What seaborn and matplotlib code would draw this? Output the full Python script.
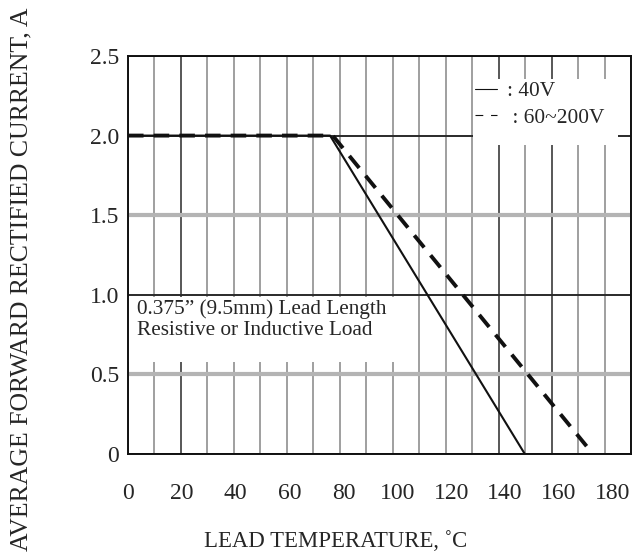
import numpy as np
import pandas as pd
import matplotlib.pyplot as plt
import seaborn as sns
from matplotlib.lines import Line2D
from matplotlib.patches import Rectangle

# ----------------------------------------------------------------------
# data
# ----------------------------------------------------------------------
temp_40v = [0, 75, 147.3]
current_40v = [2.0, 2.0, 0.0]
temp_hv = [0, 76, 172.6]
current_hv = [2.0, 2.0, 0.0]

x_ticks = [0, 20, 40, 60, 80, 100, 120, 140, 160, 180]
y_ticks = [0, 0.5, 1.0, 1.5, 2.0, 2.5]
y_tick_labels = ["0", "0.5", "1.0", "1.5", "2.0", "2.5"]
legend_labels = [": 40V", " : 60~200V"]
note_text = "0.375\u201d (9.5mm) Lead Length\nResistive or Inductive Load"

df_40v = pd.DataFrame({"temp": temp_40v, "current": current_40v})
df_hv = pd.DataFrame({"temp": temp_hv, "current": current_hv})

sns.set_theme(style="white")
plt.rcParams["font.family"] = ["Liberation Serif", "DejaVu Serif"]

X_MAX = 186.7
DARK = "#2a2a2a"
GRAY_V = "#858585"
GRAY_H = "#b4b4b4"

fig = plt.figure(figsize=(6.33, 5.57), dpi=100)
ax = fig.add_axes([0.2022, 0.1849, 0.7946, 0.7146])

# --- grid of the scanned datasheet ---
n_vlines = 20
for i, xv in enumerate(np.linspace(0, X_MAX, n_vlines)):
    dark = i in (0, 2, 14, 16, 19)
    ax.axvline(xv, color=DARK if dark else GRAY_V, lw=1.1, zorder=1)
for yv in y_ticks:
    if yv in (0.5, 1.5):
        ax.axhline(yv, color=GRAY_H, lw=3.0, zorder=1)
    else:
        ax.axhline(yv, color=DARK, lw=1.4, zorder=1.5)

# white boxes for the note and the legend
ax.add_patch(Rectangle((0.0, 0.231), 0.561, 0.163, transform=ax.transAxes,
                       facecolor="white", edgecolor="none", zorder=2))
ax.add_patch(Rectangle((0.686, 0.776), 0.288, 0.166, transform=ax.transAxes,
                       facecolor="white", edgecolor="none", zorder=2))

# --- curves ---
sns.lineplot(data=df_40v, x="temp", y="current", ax=ax, color="#111111",
             lw=1.5, zorder=4)
sns.lineplot(data=df_hv, x="temp", y="current", ax=ax, color="#111111",
             lw=2.8, linestyle="--", zorder=5)
ax.lines[-1].set_dashes([4, 2.6])

ax.text(0.017, 0.389, note_text, transform=ax.transAxes, ha="left", va="top",
        fontsize=15.3, linespacing=1.15, zorder=3)

handles = [Line2D([], [], color="#111111", lw=0.8),
           Line2D([], [], color="#111111", lw=0.8, linestyle=(0, (7, 7)))]
leg = ax.legend(handles, legend_labels, loc="upper left",
                bbox_to_anchor=(0.686, 0.942), borderaxespad=0, borderpad=0.1,
                frameon=False, fontsize=15.4, handlelength=1.0,
                handletextpad=0.5, labelspacing=0.3)
leg.set_zorder(6)

# --- axes formatting ---
ax.set_xlim(0, X_MAX)
ax.set_ylim(0, 2.5)
ax.set_xticks(x_ticks)
ax.set_xticklabels([str(v) for v in x_ticks])
ax.set_yticks(y_ticks)
ax.set_yticklabels(y_tick_labels)
ax.tick_params(axis="x", length=0, pad=21, labelsize=17)
ax.tick_params(axis="y", length=0, pad=6.5, labelsize=17)
ax.grid(False)
for sp in ax.spines.values():
    sp.set_color("#111111")
    sp.set_linewidth(1.4)
    sp.set_zorder(6)

ax.set_xlabel("LEAD TEMPERATURE, \u02daC", fontsize=16.4)
ax.xaxis.set_label_coords(0.4135, -0.1935)
ax.set_ylabel("AVERAGE FORWARD RECTIFIED CURRENT, A", fontsize=18.5)
ax.yaxis.set_label_coords(-0.19, 0.44)

fig.savefig("out.png", dpi=100)
plt.close(fig)
